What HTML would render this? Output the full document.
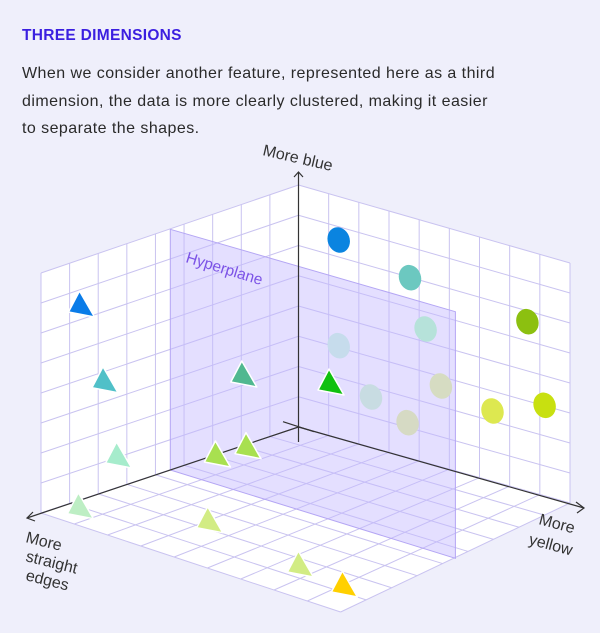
<!DOCTYPE html>
<html><head><meta charset="utf-8"><style>
html,body{margin:0;padding:0;background:#efeffb;width:600px;height:633px;overflow:hidden;font-family:"Liberation Sans",sans-serif}
.h{position:absolute;left:22px;top:27px;font-size:15.5px;font-weight:bold;color:#3b1fe0;letter-spacing:0.3px}
.p{position:absolute;left:22px;top:60px;font-size:16px;line-height:27.5px;color:#2a2a2a;letter-spacing:0.45px;width:580px}
svg{position:absolute;left:0;top:0}
</style></head><body>
<div class="h">THREE DIMENSIONS</div>
<div class="p">When we consider another feature, represented here as a third<br>dimension, the data is more clearly clustered, making it easier<br>to separate the shapes.</div>
<svg width="600" height="633" viewBox="0 0 600 633" xmlns="http://www.w3.org/2000/svg">
<polygon points="41,273 298.5,185 298.5,427 41,513" fill="#fff"/>
<polygon points="298.5,185 570,263 570,503 298.5,427" fill="#fff"/>
<polygon points="298.5,427 41,513 340.6,612 570,503" fill="#fff"/>
<g id="grid" stroke="#c9c3f0" stroke-width="1" fill="none"></g>
<g stroke="none">
<ellipse cx="338.7" cy="240" rx="11" ry="13" fill="#0a84e0" transform="rotate(-20 338.7 240)"/>
<ellipse cx="410" cy="277.7" rx="11" ry="13" fill="#6cc8c0" transform="rotate(-20 410 277.7)"/>
<ellipse cx="527.4" cy="321.7" rx="11" ry="13" fill="#8cc010" transform="rotate(-20 527.4 321.7)"/>
<ellipse cx="492.5" cy="411" rx="11" ry="13" fill="#dde850" transform="rotate(-20 492.5 411)"/>
<ellipse cx="544.6" cy="405.3" rx="11" ry="13" fill="#c8e010" transform="rotate(-20 544.6 405.3)"/>
</g>
<polygon points="170.3,229.3 455.4,311.7 455.4,558.3 170.3,470" fill="#c4b8ff" fill-opacity="0.45" stroke="#b4a6f4" stroke-width="1"/>
<g stroke="none">
<ellipse cx="425.6" cy="329" rx="11" ry="13" fill="#b6e2da" transform="rotate(-20 425.6 329)"/>
<ellipse cx="338.7" cy="345.7" rx="11" ry="13" fill="#c6dcec" transform="rotate(-20 338.7 345.7)"/>
<ellipse cx="440.9" cy="386" rx="11" ry="13" fill="#d6dcc2" transform="rotate(-20 440.9 386)"/>
<ellipse cx="371" cy="397" rx="11" ry="13" fill="#c8dce2" transform="rotate(-20 371 397)"/>
<ellipse cx="407.6" cy="422.7" rx="11" ry="13" fill="#d6dac4" transform="rotate(-20 407.6 422.7)"/>
</g>
<text x="185" y="262" font-size="15.5" fill="#7b52e6" transform="rotate(17 185 262)" font-family="Liberation Sans, sans-serif">Hyperplane</text>
<g stroke="#333" stroke-width="1.2" fill="none">
<line x1="298.5" y1="442" x2="298.5" y2="172"/>
<polyline points="294,177 298.5,172 303,177"/>
<line x1="298.5" y1="427" x2="27" y2="518"/>
<polyline points="33,512 27,518 35,521"/>
<line x1="298.5" y1="427" x2="584" y2="508"/>
<polyline points="576,502 584,508 577,513"/>
<line x1="283" y1="421.7" x2="314" y2="431.7"/>
</g>
<g id="tris" stroke="#fff" stroke-width="1.5" stroke-linejoin="round"></g>
<g font-size="16" fill="#333" font-family="Liberation Sans, sans-serif">
<text x="262" y="155" transform="rotate(13 262 155)">More blue</text>
<text x="538" y="524" transform="rotate(15 538 524)">More</text>
<text x="528" y="544" transform="rotate(15 528 544)">yellow</text>
<text x="25" y="542" transform="rotate(14 25 542)">More</text>
<text x="25" y="561" transform="rotate(14 25 561)">straight</text>
<text x="25" y="580" transform="rotate(14 25 580)">edges</text>
</g>
</svg>
<script>
var ns="http://www.w3.org/2000/svg",g=document.getElementById("grid");
function L(a,b){var l=document.createElementNS(ns,"line");l.setAttribute("x1",a[0]);l.setAttribute("y1",a[1]);l.setAttribute("x2",b[0]);l.setAttribute("y2",b[1]);g.appendChild(l);}
function lerp(a,b,t){return [a[0]+(b[0]-a[0])*t,a[1]+(b[1]-a[1])*t];}
function quad(p0,p1,p2,p3,nu,nv){
 for(var i=0;i<=nu;i++){var t=i/nu;L(lerp(p0,p1,t),lerp(p3,p2,t));}
 for(var j=0;j<=nv;j++){var t=j/nv;L(lerp(p0,p3,t),lerp(p1,p2,t));}
}
var O=[298.5,427],TL=[41,273],T=[298.5,185],BL=[41,513],TR=[570,263],BR=[570,503],F=[340.6,612];
quad(BL,O,T,TL,9,8);
quad(O,BR,TR,T,9,8);
quad(O,BR,F,BL,9,9);
var tg=document.getElementById("tris");
var tris=[[81.5,305,"#0a7ce8"],[105,380.7,"#50c0c8"],[118.6,456,"#a6eccc"],[80.4,506.7,"#bdeec4"],[243.8,375,"#50b890"],[331,383,"#10c010"],[217.4,455,"#a8e050"],[248,446.7,"#a8e050"],[209.7,520.7,"#d2ec84"],[300.4,565,"#d2ec84"],[344.4,585,"#ffd000"]];
tris.forEach(function(t){var x=t[0],y=t[1],p=document.createElementNS(ns,"polygon");
p.setAttribute("points",(x-2)+","+(y-14)+" "+(x+13)+","+(y+12)+" "+(x-13)+","+(y+7));
p.setAttribute("fill",t[2]);tg.appendChild(p);});
</script>
</body></html>
